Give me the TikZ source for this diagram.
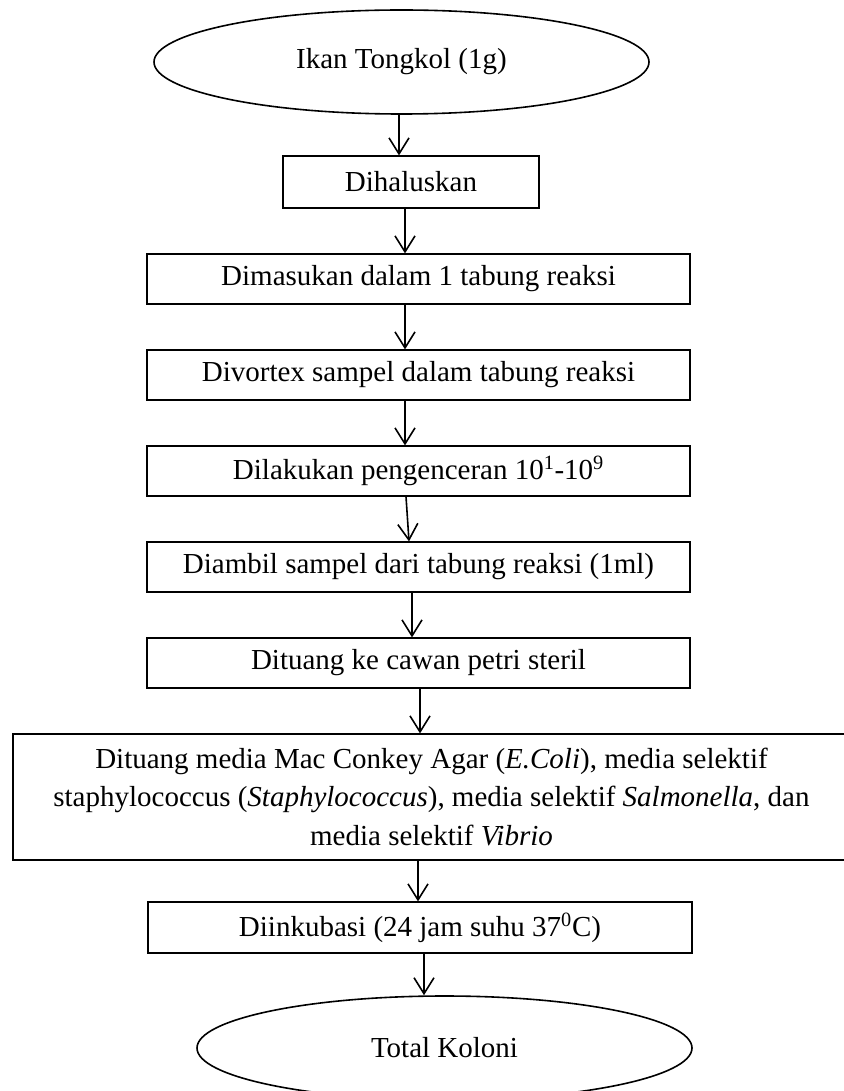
\documentclass[tikz,border=0pt]{standalone}
\usepackage{fontspec}
\setmainfont{Liberation Serif}
\usetikzlibrary{shapes.geometric, arrows.meta, positioning}

\begin{document}
\begin{tikzpicture}[x=0.75pt, y=-0.75pt,
    kotak/.style={draw, line width=0.9pt, rectangle, inner sep=0pt, align=center,
        font=\fontsize{21.75}{28.5}\selectfont},
    oval/.style={draw, line width=1.2pt, ellipse, inner sep=0pt,
        font=\fontsize{21.75}{28.5}\selectfont},
    panah/.style={-{Straight Barb[length=12pt, width=15pt, line width=1.2pt]}, line width=1.2pt}]
    \useasboundingbox (0,0) rectangle (843,1091);

    % Bahan awal
    \node[oval, minimum width=371.25pt, minimum height=78pt] (ikan) at (401.5,62) {Ikan Tongkol (1g)};

    % Tahapan persiapan sampel
    \node[kotak, minimum width=192pt, minimum height=39pt] (halus) at (411,182) {Dihaluskan};
    \node[kotak, minimum width=407.25pt, minimum height=37.5pt] (masuk) at (418.5,279) {Dimasukan dalam 1 tabung reaksi};
    \node[kotak, minimum width=407.25pt, minimum height=37.5pt] (vortex) at (418.5,375) {Divortex sampel dalam tabung reaksi};
    \node[kotak, minimum width=407.25pt, minimum height=37.5pt] (encer) at (418.5,471) {Dilakukan pengenceran 10\textsuperscript{1}-10\textsuperscript{9}};
    \node[kotak, minimum width=407.25pt, minimum height=37.5pt] (ambil) at (418.5,567) {Diambil sampel dari tabung reaksi (1ml)};
    \node[kotak, minimum width=407.25pt, minimum height=37.5pt] (cawan) at (418.5,663) {Dituang ke cawan petri steril};

    % Media selektif
    \node[kotak, minimum width=627.75pt, minimum height=94.5pt] (media) at (431.5,797)
        {Dituang media Mac Conkey Agar (\textit{E.Coli}), media selektif\\
         staphylococcus (\textit{Staphylococcus}), media selektif \textit{Salmonella}, dan\\
         media selektif \textit{Vibrio}};

    % Inkubasi dan hasil
    \node[kotak, minimum width=408pt, minimum height=38.25pt] (inkubasi) at (420,927.5) {Diinkubasi (24 jam suhu 37\textsuperscript{0}C)};
    \node[oval, minimum width=371.25pt, minimum height=78pt] (total) at (444.5,1048) {Total Koloni};

    % Garis panah antar tahap
    \coordinate (p1) at (399,0);
    \coordinate (p2) at (405,0);
    \coordinate (p5) at (406,0);
    \coordinate (q5) at (409,0);
    \coordinate (p6) at (412,0);
    \coordinate (p7) at (420,0);
    \coordinate (p8) at (418,0);
    \coordinate (p9) at (424,0);
    \draw[panah] (p1 |- ikan.south) -- (p1 |- halus.north);
    \draw[panah] (p2 |- halus.south) -- (p2 |- masuk.north);
    \draw[panah] (p2 |- masuk.south) -- (p2 |- vortex.north);
    \draw[panah] (p2 |- vortex.south) -- (p2 |- encer.north);
    \draw[panah] (p5 |- encer.south) -- (q5 |- ambil.north);
    \draw[panah] (p6 |- ambil.south) -- (p6 |- cawan.north);
    \draw[panah] (p7 |- cawan.south) -- (p7 |- media.north);
    \draw[panah] (p8 |- media.south) -- (p8 |- inkubasi.north);
    \draw[panah] (p9 |- inkubasi.south) -- (p9 |- total.north);
\end{tikzpicture}
\end{document}
